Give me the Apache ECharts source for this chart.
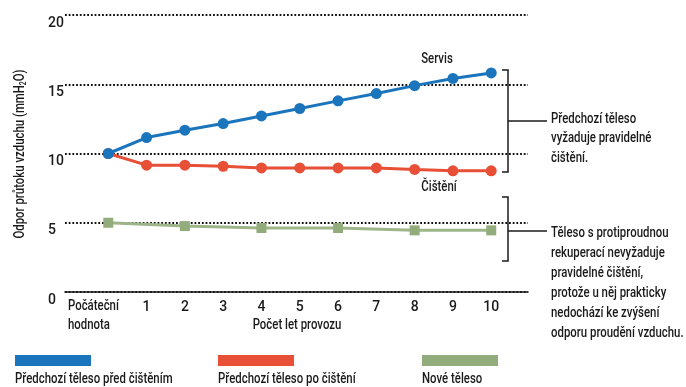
<!DOCTYPE html>
<html>
<head>
<meta charset="utf-8">
<script src="https://cdn.jsdelivr.net/npm/echarts@6/dist/echarts.min.js"></script>
<style>
  html, body { margin: 0; padding: 0; background: #fff; }
  #chart { width: 686px; height: 387px; }
</style>
</head>
<body>
<div id="chart"></div>
<script>
// Years of operation (0 = initial value)
const years = [0, 1, 2, 3, 4, 5, 6, 7, 8, 9, 10];
const yearsNew = [0, 2, 4, 6, 8, 10];
const xTickLabels = ['Počáteční\nhodnota', '1', '2', '3', '4', '5', '6', '7', '8', '9', '10'];

// Air-flow resistance (mmH2O)
const beforeCleaning = [10, 11.15, 11.68, 12.16, 12.71, 13.25, 13.8, 14.33, 14.9, 15.42, 15.82];
const afterCleaning  = [10, 9.16, 9.16, 9.08, 8.96, 8.96, 8.96, 8.96, 8.85, 8.75, 8.75];
const newBody        = [5.0, 4.76, 4.62, 4.62, 4.45, 4.45];

const seriesNames = ['Předchozí těleso před čištěním', 'Předchozí těleso po čištění', 'Nové těleso'];
const seriesColors = ['#1b75bc', '#e84f37', '#93ac7b'];

const yTicks = [0, 5, 10, 15, 20];
const xAxisTitle = 'Počet let provozu';
const yAxisTitle = 'Odpor průtoku vzduchu (mmH{sub|2}O)';
const noteTop = ['Předchozí těleso', 'vyžaduje pravidelné', 'čištění.'];
const noteBottom = ['Těleso s protiproudnou', 'rekuperací nevyžaduje', 'pravidelné čištění,',
  'protože u něj prakticky', 'nedochází ke zvýšení', 'odporu proudění vzduchu.'];

const FONT = "Roboto, 'DejaVu Sans Condensed', sans-serif";
const INK = '#1a1a1a';
const SQUEEZE = 0.76;   // horizontal squeeze giving a condensed face

const chart = echarts.init(document.getElementById('chart'), null, { renderer: 'canvas' });

function pairs(xs, ys) { return xs.map((x, i) => [x, ys[i]]); }

const option = {
  animation: false,
  textStyle: { fontFamily: FONT, color: INK },
  grid: { left: 65, right: 158, top: 15, bottom: 95, containLabel: false },
  xAxis: {
    type: 'value',
    min: -1.13,
    max: 10.96,
    axisLine: { show: true, lineStyle: { color: INK, width: 1.6 } },
    axisTick: { show: false },
    splitLine: { show: false },
    axisLabel: {
      customValues: years.slice(1),
      margin: 8,
      fontFamily: FONT,
      fontWeight: 500,
      fontSize: 14,
      color: INK,
      formatter: function (v) { return xTickLabels[years.indexOf(v)]; }
    }
  },
  yAxis: {
    type: 'value',
    min: 0,
    max: 20,
    interval: 5,
    axisLine: { show: false },
    axisTick: { show: false },
    axisLabel: {
      align: 'left',
      verticalAlign: 'top',
      margin: 17,
      fontFamily: FONT,
      fontWeight: 500,
      fontSize: 14,
      color: INK,
      padding: [1, 0, 0, 0],
      formatter: function (v) { return yTicks.indexOf(v) >= 0 ? String(v) : ''; }
    },
    splitLine: {
      show: true,
      lineStyle: { color: '#111', width: 1.8, type: [1.8, 1.9] }
    }
  },
  series: [
    {
      name: seriesNames[2],
      type: 'line',
      data: pairs(yearsNew, newBody),
      symbol: 'rect',
      symbolSize: 10,
      itemStyle: { color: seriesColors[2] },
      lineStyle: { color: '#9db589', width: 3 },
      z: 2
    },
    {
      name: seriesNames[1],
      type: 'line',
      data: pairs(years, afterCleaning),
      symbol: 'circle',
      symbolSize: 11,
      itemStyle: { color: seriesColors[1] },
      lineStyle: { color: seriesColors[1], width: 3 },
      z: 3
    },
    {
      name: seriesNames[0],
      type: 'line',
      data: pairs(years, beforeCleaning),
      symbol: 'circle',
      symbolSize: 11,
      itemStyle: { color: seriesColors[0] },
      lineStyle: { color: seriesColors[0], width: 3 },
      z: 4
    }
  ]
};

chart.setOption(option);

// Condensed text block (squeezed horizontally about its anchor)
function label(x, y, text, opts) {
  opts = opts || {};
  return {
    type: 'text',
    x: x,
    y: y,
    scaleX: SQUEEZE,
    rotation: opts.rotation || 0,
    style: {
      text: text,
      fontFamily: FONT,
      fontWeight: 500,
      fontSize: opts.size || 15,
      fill: INK,
      lineHeight: opts.lineHeight || 19,
      align: opts.align || 'left',
      verticalAlign: opts.vAlign || 'middle',
      rich: opts.rich
    }
  };
}

function bracket(x, y1, y2, yMid, armTo) {
  const s = { stroke: INK, lineWidth: 1.5 };
  return [
    { type: 'polyline', shape: { points: [[x - 6, y1], [x, y1], [x, y2], [x - 6, y2]] }, style: Object.assign({ fill: null }, s) },
    { type: 'line', shape: { x1: x, y1: yMid, x2: armTo, y2: yMid }, style: s }
  ];
}

const graphics = [];

// First category label and axis titles
const p0 = chart.convertToPixel({ gridIndex: 0 }, [0, 0]);
graphics.push(label(68, p0[1] + 4.5, xTickLabels[0], { vAlign: 'top', lineHeight: 19 }));
graphics.push(label(297, 325, xAxisTitle, { align: 'center' }));
graphics.push(label(20, 154, yAxisTitle, {
  align: 'center', rotation: Math.PI / 2,
  rich: { sub: { fontFamily: FONT, fontWeight: 500, fontSize: 9, fill: INK, padding: [8, 0, 0, 0] } }
}));

// Series captions
graphics.push(label(437, 59, 'Servis', { align: 'center' }));
graphics.push(label(439, 187, 'Čištění', { align: 'center' }));

// Brackets with notes
bracket(508, 70, 172, 121, 547).forEach(g => graphics.push(g));
bracket(508, 197, 261, 231, 547).forEach(g => graphics.push(g));
graphics.push(label(551, 119 - 9.75, noteTop.join('\n'), { vAlign: 'top', lineHeight: 19.5 }));
graphics.push(label(551, 233 - 10, noteBottom.join('\n'), { vAlign: 'top', lineHeight: 20 }));

// Legend row
const legendX = [15, 218, 422];
seriesNames.forEach((name, i) => {
  graphics.push({ type: 'rect', shape: { x: legendX[i], y: 355, width: 76, height: 11 }, style: { fill: seriesColors[i] } });
  graphics.push(label(legendX[i], 379, name));
});

chart.setOption({ graphic: graphics });
</script>
</body>
</html>
